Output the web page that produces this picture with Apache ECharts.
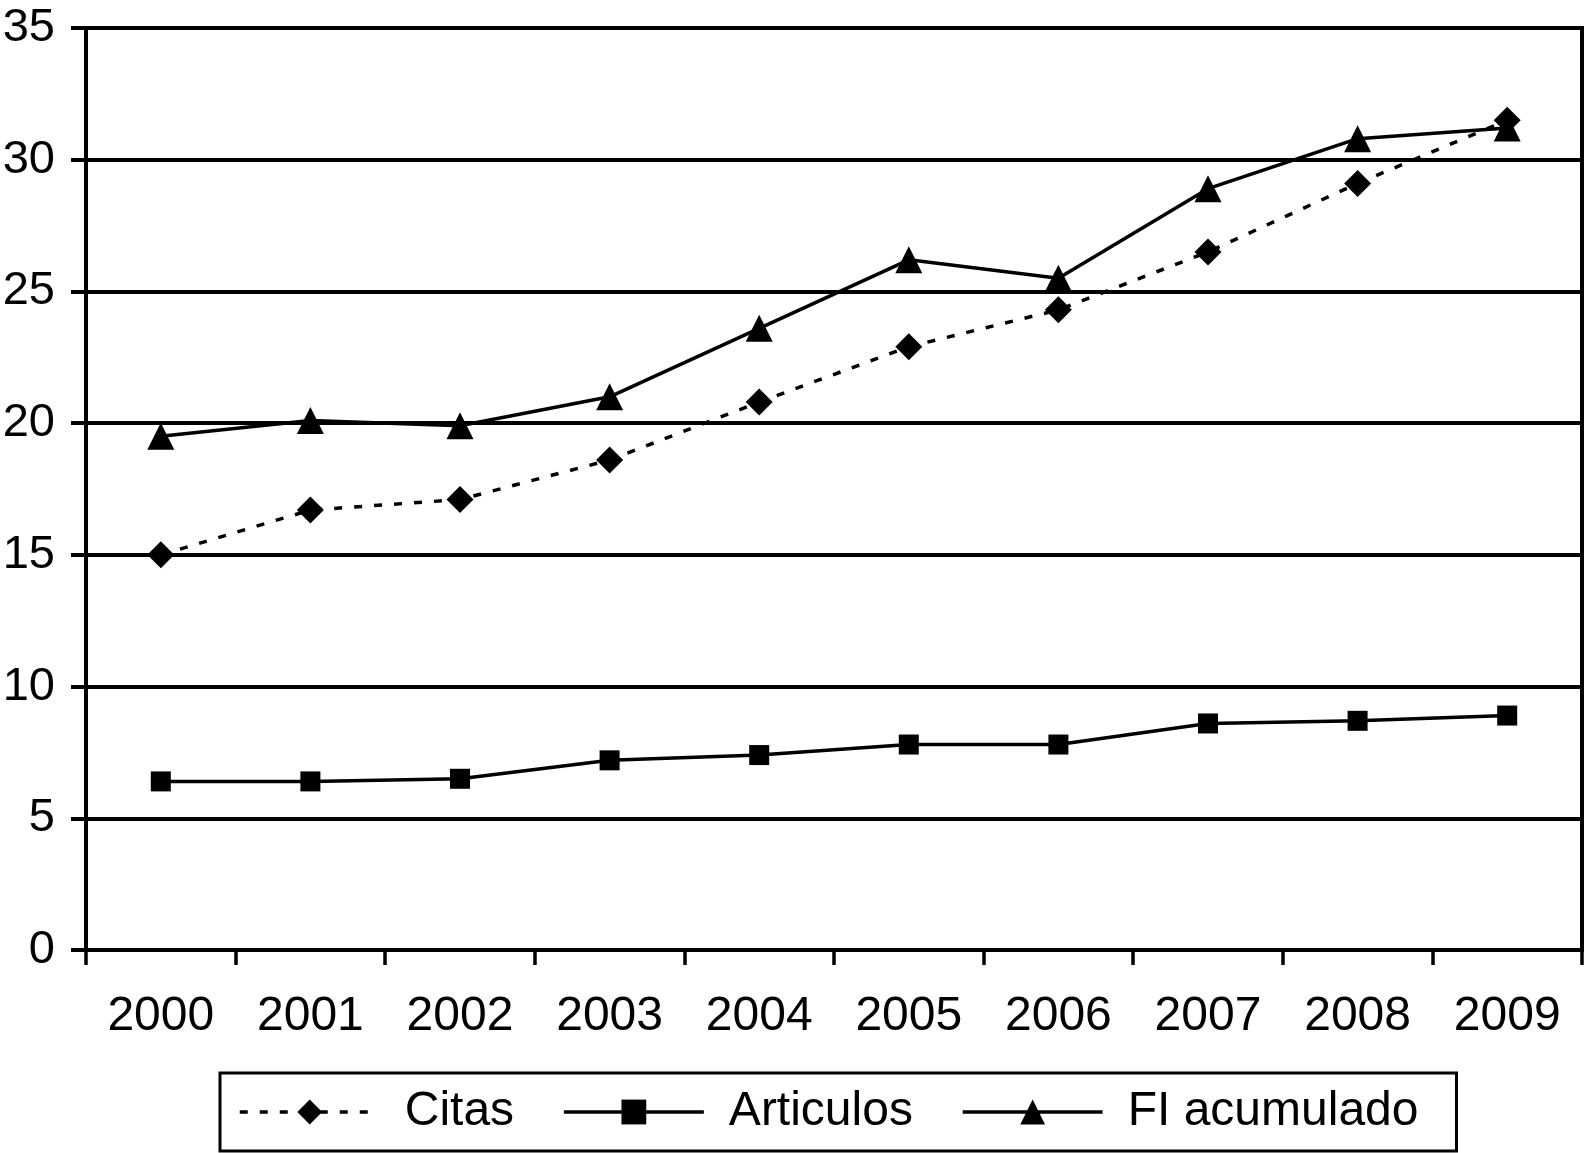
<!DOCTYPE html>
<html>
<head>
<meta charset="utf-8">
<script src="https://cdn.jsdelivr.net/npm/echarts@6/dist/echarts.min.js"></script>
<style>
html,body{margin:0;padding:0;background:#fff;}
#chart{width:1590px;height:1153px;}
</style>
</head>
<body>
<div id="chart"></div>
<script>
const years = ['2000','2001','2002','2003','2004','2005','2006','2007','2008','2009'];
const citas = [15.0, 16.7, 17.1, 18.6, 20.8, 22.9, 24.3, 26.5, 29.1, 31.5];
const articulos = [6.4, 6.4, 6.5, 7.2, 7.4, 7.8, 7.8, 8.6, 8.7, 8.9];
const fiAcumulado = [19.5, 20.1, 19.9, 21.0, 23.6, 26.2, 25.5, 28.9, 30.8, 31.2];
const yTicks = [0, 5, 10, 15, 20, 25, 30, 35];

const FONT = "'Liberation Sans', Arial, Helvetica, sans-serif";
const chart = echarts.init(document.getElementById('chart'), null, {renderer: 'canvas'});

chart.setOption({
  backgroundColor: '#fff',
  animation: false,
  grid: {
    left: 86, right: 8, top: 28, bottom: 203,
    outerBoundsMode: 'none',
    containLabel: false,
    show: true, borderColor: '#000', borderWidth: 4, backgroundColor: 'transparent'
  },
  legend: {
    left: 220, top: 1073,
    padding: [14, 38, 14, 18],
    borderColor: '#000', borderWidth: 3,
    itemWidth: 140, itemHeight: 31, itemGap: 48,
    lineStyle: {width: 3.5},
    textStyle: {fontFamily: FONT, fontSize: 48, color: '#000', padding: [0, 0, 0, 20], lineHeight: 50},
    data: ['Citas', 'Articulos', 'FI acumulado']
  },
  xAxis: {
    type: 'category',
    data: years,
    boundaryGap: true,
    axisLine: {show: true, lineStyle: {color: '#000', width: 4}},
    axisTick: {show: true, length: 15, lineStyle: {color: '#000', width: 3.5}},
    axisLabel: {color: '#000', fontFamily: FONT, fontSize: 48, margin: 43},
    splitLine: {show: false}
  },
  yAxis: {
    type: 'value',
    min: yTicks[0], max: yTicks[yTicks.length - 1], interval: 5,
    axisLine: {show: true, lineStyle: {color: '#000', width: 4}},
    axisTick: {show: true, length: 15, lineStyle: {color: '#000', width: 4}},
    axisLabel: {color: '#000', fontFamily: FONT, fontSize: 47, margin: 31},
    splitLine: {show: true, lineStyle: {color: '#000', width: 4}}
  },
  series: [
    {
      name: 'Citas', type: 'line', data: citas,
      symbol: 'diamond', symbolSize: 27,
      itemStyle: {color: '#000'},
      lineStyle: {color: '#000', width: 3.5, type: [8, 12]},
      z: 3
    },
    {
      name: 'Articulos', type: 'line', data: articulos,
      symbol: 'rect', symbolSize: 20,
      itemStyle: {color: '#000'},
      lineStyle: {color: '#000', width: 3.5, type: 'solid'},
      z: 3
    },
    {
      name: 'FI acumulado', type: 'line', data: fiAcumulado,
      symbol: 'triangle', symbolSize: 27,
      itemStyle: {color: '#000'},
      lineStyle: {color: '#000', width: 3.5, type: 'solid'},
      z: 3
    }
  ]
});
</script>
</body>
</html>
